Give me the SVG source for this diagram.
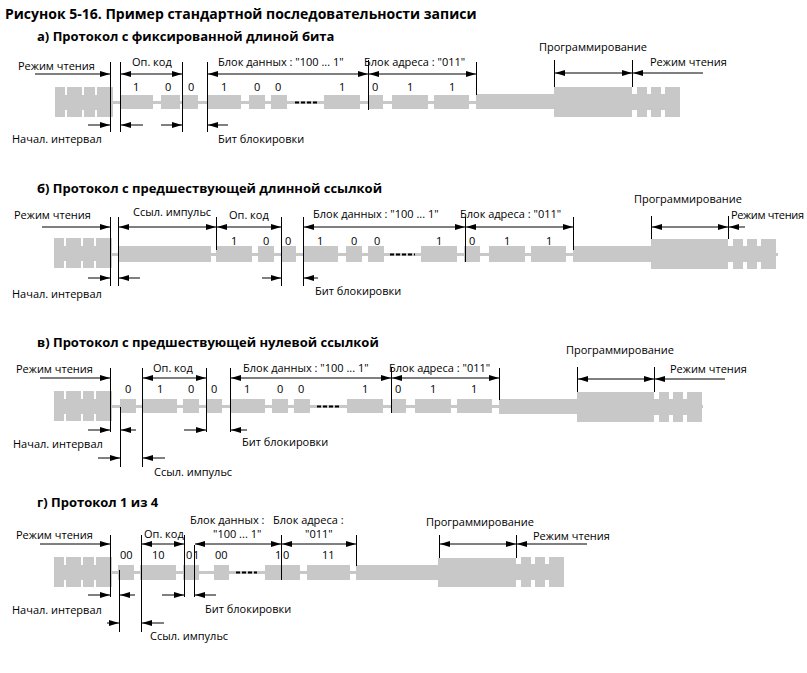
<svg xmlns="http://www.w3.org/2000/svg" width="807" height="673" viewBox="0 0 807 673">
<style>
text{font-family:"Open Sans","Liberation Sans",sans-serif;font-size:11px;fill:#000}
.t{font-weight:bold;font-size:13px}
.g{fill:#c8c8c8}
.v{stroke:#000;stroke-width:1}
.a{stroke:#000;stroke-width:1;fill:none;marker-end:url(#ah)}
.d{stroke:#000;stroke-width:1;fill:none;marker-end:url(#ah);marker-start:url(#ah)}
.ds{stroke:#000;stroke-width:2;stroke-dasharray:4,2}
</style>
<defs>
<marker id="ah" viewBox="0 0 10 6" refX="10" refY="3" markerWidth="10" markerHeight="6" markerUnits="userSpaceOnUse" orient="auto-start-reverse"><path d="M0,0 L10,3 L0,6 Z" fill="#000"/></marker>
<g id="rs" class="g"><rect x="0" y="8" width="58" height="15"/><rect x="0" y="0" width="10" height="30"/><rect x="12" y="0" width="15" height="30"/><rect x="29" y="0" width="11" height="30"/><rect x="42" y="0" width="16" height="30"/></g>
<g id="re" class="g"><rect x="0" y="7" width="48" height="16"/><rect x="5" y="0" width="10" height="30"/><rect x="19" y="0" width="10" height="30"/><rect x="33" y="0" width="15" height="30"/></g>
</defs>
<rect width="807" height="673" fill="#fff"/>
<text x="5" y="19" class="t" style="font-size:14px">Рисунок 5-16. Пример стандартной последовательности записи</text>

<!-- a -->
<g id="secA">
<text x="37" y="41" class="t">а) Протокол с фиксированной длиной бита</text>
<g class="g">
<rect x="55" y="101" width="625" height="3"/>
<rect x="120" y="95" width="33" height="14"/><rect x="161" y="95" width="19" height="14"/><rect x="183" y="95" width="15" height="14"/>
<rect x="207" y="95" width="34" height="14"/><rect x="249" y="95" width="16" height="14"/><rect x="271" y="95" width="16" height="14"/>
<rect x="324" y="95" width="36" height="14"/><rect x="368" y="95" width="15" height="14"/><rect x="392" y="95" width="36" height="14"/><rect x="434" y="95" width="35" height="14"/>
<rect x="476" y="94" width="80" height="15"/><rect x="554" y="87" width="78" height="30"/>
</g>
<use href="#rs" x="55" y="87"/><use href="#re" x="632" y="87"/>
<line x1="295" y1="102.5" x2="318" y2="102.5" class="ds"/>
<g id="connA">
<line x1="110.5" y1="62" x2="110.5" y2="132" class="v"/><line x1="120.5" y1="62" x2="120.5" y2="132" class="v"/>
<line x1="182.5" y1="62" x2="182.5" y2="132" class="v"/><line x1="207.5" y1="62" x2="207.5" y2="132" class="v"/>
<line x1="368.5" y1="60" x2="368.5" y2="110" class="v"/><line x1="476.5" y1="62" x2="476.5" y2="95" class="v"/>
<line x1="554.5" y1="60" x2="554.5" y2="87" class="v"/><line x1="632.5" y1="60" x2="632.5" y2="87" class="v"/>
<line x1="35" y1="74" x2="110" y2="74" class="a"/><line x1="121" y1="74" x2="182" y2="74" class="d"/>
<line x1="208" y1="74" x2="368" y2="74" class="d"/><line x1="369" y1="74" x2="476" y2="74" class="d"/>
<line x1="555" y1="73" x2="632" y2="73" class="d"/><line x1="703" y1="73" x2="633" y2="73" class="a"/>
<line x1="88" y1="125" x2="110" y2="125" class="a"/><line x1="143" y1="125" x2="121" y2="125" class="a"/>
<line x1="161" y1="125" x2="182" y2="125" class="a"/><line x1="228" y1="125" x2="208" y2="125" class="a"/>
</g>
<text x="18" y="70">Режим чтения</text><text x="132" y="66">Оп. код</text>
<text x="218" y="66">Блок данных : "100 ... 1"</text><text x="364" y="66">Блок адреса : "011"</text>
<text x="539" y="51">Программирование</text><text x="650" y="66">Режим чтения</text>
<text x="12" y="143">Начал. интервал</text><text x="218" y="143">Бит блокировки</text>
<text x="133" y="91">1</text><text x="165" y="91">0</text><text x="188" y="91">0</text><text x="221" y="91">1</text><text x="254" y="91">0</text><text x="275" y="91">0</text><text x="339" y="91">1</text><text x="372" y="91">0</text><text x="407" y="91">1</text><text x="449" y="91">1</text>
</g>

<!-- b -->
<g id="secB">
<text x="37" y="193" class="t">б) Протокол с предшествующей длинной ссылкой</text>
<g class="g">
<rect x="54" y="253" width="724" height="3"/>
<rect x="118" y="246" width="93" height="16"/>
<rect x="216" y="246" width="36" height="16"/><rect x="258" y="246" width="16" height="16"/><rect x="281" y="246" width="15" height="16"/>
<rect x="303" y="246" width="35" height="16"/><rect x="346" y="246" width="16" height="16"/><rect x="368" y="246" width="16" height="16"/>
<rect x="421" y="246" width="36" height="16"/><rect x="464" y="246" width="16" height="16"/><rect x="489" y="246" width="36" height="16"/><rect x="531" y="246" width="35" height="16"/>
<rect x="573" y="246" width="80" height="16"/><rect x="651" y="239" width="77" height="30"/>
</g>
<use href="#rs" x="54" y="238"/><use href="#re" x="728" y="239"/>
<line x1="390" y1="254.5" x2="415" y2="254.5" class="ds"/>
<g id="connB">
<line x1="110.5" y1="217" x2="110.5" y2="286" class="v"/><line x1="118.5" y1="217" x2="118.5" y2="286" class="v"/>
<line x1="216.5" y1="217" x2="216.5" y2="250" class="v"/><line x1="281.5" y1="217" x2="281.5" y2="286" class="v"/>
<line x1="303.5" y1="217" x2="303.5" y2="286" class="v"/><line x1="465.5" y1="217" x2="465.5" y2="262" class="v"/>
<line x1="573.5" y1="217" x2="573.5" y2="250" class="v"/><line x1="651.5" y1="216" x2="651.5" y2="239" class="v"/>
<line x1="728.5" y1="216" x2="728.5" y2="239" class="v"/>
<line x1="42" y1="227" x2="110" y2="227" class="a"/><line x1="119" y1="227" x2="216" y2="227" class="d"/>
<line x1="217" y1="227" x2="281" y2="227" class="d"/><line x1="304" y1="227" x2="465" y2="227" class="d"/>
<line x1="466" y1="227" x2="573" y2="227" class="d"/><line x1="652" y1="227" x2="728" y2="227" class="d"/>
<line x1="745" y1="227" x2="729" y2="227" class="a"/>
<line x1="88" y1="278" x2="110" y2="278" class="a"/><line x1="140" y1="278" x2="119" y2="278" class="a"/>
<line x1="262" y1="278" x2="281" y2="278" class="a"/><line x1="318" y1="278" x2="304" y2="278" class="a"/>
</g>
<text x="14" y="219">Режим чтения</text><text x="133" y="216">Ссыл. импульс</text><text x="229" y="219">Оп. код</text>
<text x="313" y="218">Блок данных : "100 ... 1"</text><text x="460" y="218">Блок адреса : "011"</text>
<text x="634" y="203">Программирование</text><text x="731" y="219" textLength="73">Режим чтения</text>
<text x="12" y="298">Начал. интервал</text><text x="315" y="295">Бит блокировки</text>
<text x="231" y="245">1</text><text x="263" y="245">0</text><text x="285" y="245">0</text><text x="317" y="245">1</text><text x="351" y="245">0</text><text x="374" y="245">0</text><text x="436" y="245">1</text><text x="469" y="245">0</text><text x="504" y="245">1</text><text x="546" y="245">1</text>
</g>

<!-- c -->
<g id="secC">
<text x="37" y="347" class="t">в) Протокол с предшествующей нулевой ссылкой</text>
<g class="g">
<rect x="54" y="405" width="649" height="3"/>
<rect x="120" y="399" width="16" height="14"/>
<rect x="142" y="399" width="35" height="14"/><rect x="183" y="399" width="16" height="14"/><rect x="206" y="399" width="16" height="14"/>
<rect x="230" y="399" width="35" height="14"/><rect x="272" y="399" width="16" height="14"/><rect x="294" y="399" width="16" height="14"/>
<rect x="347" y="399" width="36" height="14"/><rect x="391" y="399" width="15" height="14"/><rect x="415" y="399" width="36" height="14"/><rect x="457" y="399" width="35" height="14"/>
<rect x="499" y="399" width="80" height="15"/><rect x="577" y="392" width="77" height="30"/>
</g>
<use href="#rs" x="54" y="391"/><use href="#re" x="654" y="392"/>
<line x1="317" y1="406.5" x2="340" y2="406.5" class="ds"/>
<g id="connC">
<line x1="110.5" y1="368" x2="110.5" y2="432" class="v"/><line x1="120.5" y1="407" x2="120.5" y2="467" class="v"/>
<line x1="142.5" y1="368" x2="142.5" y2="467" class="v"/><line x1="206.5" y1="368" x2="206.5" y2="432" class="v"/>
<line x1="230.5" y1="368" x2="230.5" y2="432" class="v"/><line x1="391.5" y1="368" x2="391.5" y2="413" class="v"/>
<line x1="499.5" y1="368" x2="499.5" y2="400" class="v"/><line x1="577.5" y1="367" x2="577.5" y2="392" class="v"/>
<line x1="654.5" y1="367" x2="654.5" y2="392" class="v"/>
<line x1="40" y1="378" x2="110" y2="378" class="a"/><line x1="143" y1="378" x2="206" y2="378" class="d"/>
<line x1="231" y1="378" x2="391" y2="378" class="d"/><line x1="392" y1="378" x2="499" y2="378" class="d"/>
<line x1="578" y1="379" x2="654" y2="379" class="d"/><line x1="725" y1="379" x2="655" y2="379" class="a"/>
<line x1="88" y1="430" x2="110" y2="430" class="a"/><line x1="136" y1="430" x2="121" y2="430" class="a"/>
<line x1="184" y1="430" x2="206" y2="430" class="a"/><line x1="247" y1="430" x2="231" y2="430" class="a"/>
<line x1="98" y1="458" x2="120" y2="458" class="a"/><line x1="165" y1="458" x2="143" y2="458" class="a"/>
</g>
<text x="16" y="373">Режим чтения</text><text x="153" y="372">Оп. код</text>
<text x="243" y="372">Блок данных : "100 ... 1"</text><text x="389" y="372">Блок адреса : "011"</text>
<text x="566" y="354">Программирование</text><text x="670" y="373">Режим чтения</text>
<text x="13" y="448">Начал. интервал</text><text x="242" y="446">Бит блокировки</text><text x="154" y="476">Ссыл. импульс</text>
<text x="125" y="393">0</text><text x="157" y="393">1</text><text x="188" y="393">0</text><text x="211" y="393">0</text><text x="244" y="393">1</text><text x="277" y="393">0</text><text x="298" y="393">0</text><text x="362" y="393">1</text><text x="395" y="393">0</text><text x="430" y="393">1</text><text x="471" y="393">1</text>
</g>

<!-- d -->
<g id="secD">
<text x="37" y="507" class="t">г) Протокол 1 из 4</text>
<g class="g">
<rect x="54" y="571" width="510" height="3"/>
<rect x="118" y="565" width="16" height="15"/><rect x="140" y="565" width="36" height="15"/><rect x="183" y="565" width="16" height="15"/>
<rect x="214" y="565" width="15" height="15"/><rect x="265" y="565" width="35" height="15"/><rect x="307" y="565" width="43" height="15"/>
<rect x="356" y="565" width="84" height="15"/><rect x="438" y="558" width="78" height="29"/>
</g>
<use href="#rs" x="54" y="557"/><use href="#re" x="516" y="557"/>
<line x1="236" y1="572.5" x2="257" y2="572.5" class="ds"/>
<g id="connD">
<line x1="110.5" y1="535" x2="110.5" y2="597" class="v"/><line x1="119.5" y1="570" x2="119.5" y2="632" class="v"/>
<line x1="141.5" y1="535" x2="141.5" y2="632" class="v"/><line x1="184.5" y1="535" x2="184.5" y2="597" class="v"/>
<line x1="194.5" y1="545" x2="194.5" y2="597" class="v"/><line x1="281.5" y1="535" x2="281.5" y2="580" class="v"/>
<line x1="356.5" y1="535" x2="356.5" y2="566" class="v"/><line x1="439.5" y1="535" x2="439.5" y2="558" class="v"/>
<line x1="516.5" y1="535" x2="516.5" y2="558" class="v"/>
<line x1="40" y1="544" x2="110" y2="544" class="a"/><line x1="142" y1="544" x2="184" y2="544" class="d"/>
<line x1="195" y1="544" x2="281" y2="544" class="d"/><line x1="282" y1="544" x2="356" y2="544" class="d"/>
<line x1="440" y1="544" x2="516" y2="544" class="d"/><line x1="587" y1="544" x2="517" y2="544" class="a"/>
<line x1="88" y1="595" x2="110" y2="595" class="a"/><line x1="135" y1="595" x2="120" y2="595" class="a"/>
<line x1="162" y1="595" x2="184" y2="595" class="a"/><line x1="216" y1="595" x2="195" y2="595" class="a"/>
<line x1="107" y1="623" x2="119" y2="623" class="a"/><line x1="164" y1="623" x2="142" y2="623" class="a"/>
</g>
<text x="16" y="539">Режим чтения</text><text x="144" y="538">Оп. код</text>
<text x="190" y="524">Блок данных :</text><text x="213" y="538">"100 ... 1"</text>
<text x="273" y="524">Блок адреса :</text><text x="305" y="538">"011"</text>
<text x="426" y="526">Программирование</text><text x="533" y="540">Режим чтения</text>
<text x="12" y="614">Начал. интервал</text><text x="205" y="613">Бит блокировки</text><text x="150" y="640">Ссыл. импульс</text>
<text x="120" y="559">00</text><text x="152" y="559">10</text><text x="186" y="559">0</text><text x="193" y="559">1</text><text x="215" y="559">00</text><text x="275" y="559">1</text><text x="283" y="559">0</text><text x="322" y="559">11</text>
</g>
</svg>
